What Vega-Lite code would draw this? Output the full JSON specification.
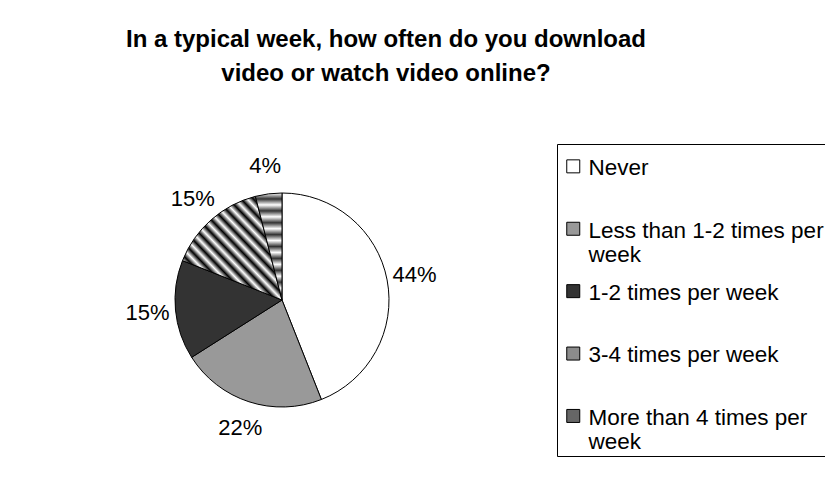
{
  "$schema": "https://vega.github.io/schema/vega-lite/v6.json",
  "width": 552,
  "height": 312,
  "autosize": {"type": "none"},
  "padding": {"left": 6, "top": 144, "right": 267, "bottom": 32},
  "background": "white",
  "config": {"view": {"stroke": null}, "font": "Liberation Sans"},
  "title": {
    "text": ["In a typical week, how often do you download", "video or watch video online?"],
    "font": "Liberation Sans",
    "fontSize": 24,
    "fontWeight": "bold",
    "color": "black",
    "lineHeight": 34,
    "anchor": "middle",
    "frame": "group",
    "dx": 104,
    "offset": 34,
    "baseline": "bottom"
  },
  "data": {
    "values": [
      {"category": "Never", "share": 0.44, "rank": 1},
      {"category": "Less than 1-2 times per week", "share": 0.22, "rank": 2},
      {"category": "1-2 times per week", "share": 0.15, "rank": 3},
      {"category": "3-4 times per week", "share": 0.15, "rank": 4},
      {"category": "More than 4 times per week", "share": 0.04, "rank": 5}
    ]
  },
  "encoding": {
    "theta": {"field": "share", "type": "quantitative", "stack": true},
    "order": {"field": "rank", "type": "quantitative"}
  },
  "layer": [
    {
      "mark": {"type": "arc", "outerRadius": 107, "stroke": "black", "strokeWidth": 1},
      "encoding": {
        "fill": {
          "condition": [
            {"test": "datum.category === '3-4 times per week'", "value": {"gradient": "linear", "x1": 0, "y1": 1, "x2": 1, "y2": 0, "stops": [
                {"offset": 0, "color": "#ffffff"}, {"offset": 0.03125, "color": "#000000"},
                {"offset": 0.0625, "color": "#ffffff"}, {"offset": 0.09375, "color": "#000000"},
                {"offset": 0.125, "color": "#ffffff"}, {"offset": 0.15625, "color": "#000000"},
                {"offset": 0.1875, "color": "#ffffff"}, {"offset": 0.21875, "color": "#000000"},
                {"offset": 0.25, "color": "#ffffff"}, {"offset": 0.28125, "color": "#000000"},
                {"offset": 0.3125, "color": "#ffffff"}, {"offset": 0.34375, "color": "#000000"},
                {"offset": 0.375, "color": "#ffffff"}, {"offset": 0.40625, "color": "#000000"},
                {"offset": 0.4375, "color": "#ffffff"}, {"offset": 0.46875, "color": "#000000"},
                {"offset": 0.5, "color": "#ffffff"}, {"offset": 0.53125, "color": "#000000"},
                {"offset": 0.5625, "color": "#ffffff"}, {"offset": 0.59375, "color": "#000000"},
                {"offset": 0.625, "color": "#ffffff"}, {"offset": 0.65625, "color": "#000000"},
                {"offset": 0.6875, "color": "#ffffff"}, {"offset": 0.71875, "color": "#000000"},
                {"offset": 0.75, "color": "#ffffff"}, {"offset": 0.78125, "color": "#000000"},
                {"offset": 0.8125, "color": "#ffffff"}, {"offset": 0.84375, "color": "#000000"},
                {"offset": 0.875, "color": "#ffffff"}, {"offset": 0.90625, "color": "#000000"},
                {"offset": 0.9375, "color": "#ffffff"}, {"offset": 0.96875, "color": "#000000"},
                {"offset": 1, "color": "#ffffff"}
              ]}},
            {"test": "datum.category === 'More than 4 times per week'", "value": {"gradient": "linear", "x1": 0, "y1": 0, "x2": 0, "y2": 1, "stops": [
                {"offset": 0, "color": "#ffffff"}, {"offset": 0.0556, "color": "#333333"},
                {"offset": 0.1111, "color": "#ffffff"}, {"offset": 0.1667, "color": "#333333"},
                {"offset": 0.2222, "color": "#ffffff"}, {"offset": 0.2778, "color": "#333333"},
                {"offset": 0.3333, "color": "#ffffff"}, {"offset": 0.3889, "color": "#333333"},
                {"offset": 0.4444, "color": "#ffffff"}, {"offset": 0.5, "color": "#333333"},
                {"offset": 0.5556, "color": "#ffffff"}, {"offset": 0.6111, "color": "#333333"},
                {"offset": 0.6667, "color": "#ffffff"}, {"offset": 0.7222, "color": "#333333"},
                {"offset": 0.7778, "color": "#ffffff"}, {"offset": 0.8333, "color": "#333333"},
                {"offset": 0.8889, "color": "#ffffff"}, {"offset": 0.9444, "color": "#333333"},
                {"offset": 1, "color": "#ffffff"}
              ]}}
          ],
          "field": "category",
          "type": "nominal",
          "scale": {
            "domain": ["Never", "Less than 1-2 times per week", "1-2 times per week", "3-4 times per week", "More than 4 times per week"],
            "range": ["#ffffff", "#999999", "#333333", "#8c8c8c", "#666666"]
          },
          "legend": {
            "title": null,
            "orient": "right",
            "offset": -1,
            "strokeColor": "#000000",
            "padding": 2,
            "symbolType": "M-1,0.4H1V2.4H-1Z",
            "symbolSize": 169,
            "symbolOffset": 3,
            "symbolStrokeColor": "#000000",
            "symbolStrokeWidth": 1,
            "labelFont": "Liberation Sans",
            "labelFontSize": 22.5,
            "labelColor": "#000000",
            "labelBaseline": "top",
            "labelLineHeight": 26,
            "labelOffset": 4,
            "labelLimit": 400,
            "rowPadding": 3.4,
            "labelExpr": "datum.label == 'Less than 1-2 times per week' ? ['Less than 1-2 times per\u00a0\u00a0', 'week'] : datum.label == 'More than 4 times per week' ? ['More than 4 times per', 'week'] : [datum.label, '']"
          }
        }
      }
    },
    {
      "mark": {"type": "text", "radius": 135, "fontSize": 22, "font": "Liberation Sans", "fill": "#000000", "align": "center", "baseline": "middle"},
      "encoding": {
        "detail": {"field": "category", "type": "nominal"},
        "text": {"field": "share", "type": "quantitative", "format": ".0%"}
      }
    }
  ]
}
